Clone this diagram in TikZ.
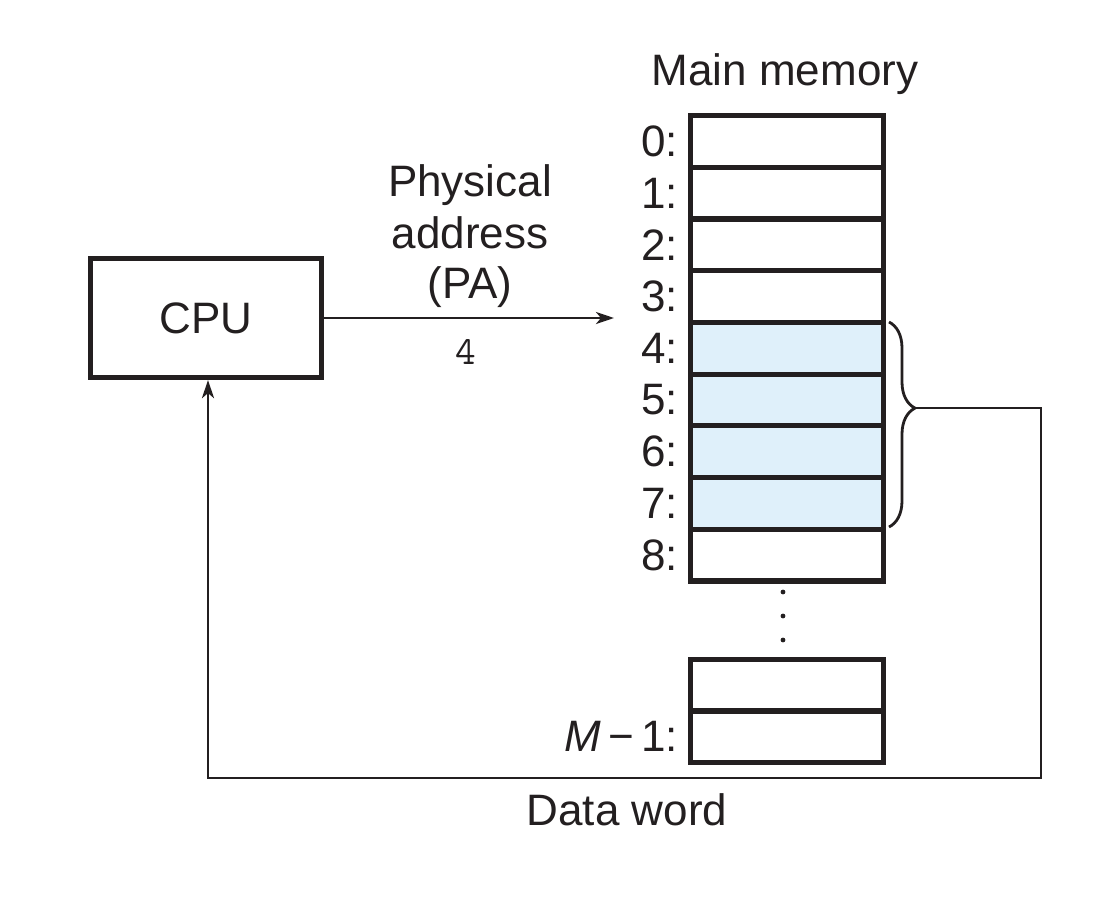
\documentclass[tikz,border=0pt]{standalone}
\usepackage{fontspec}
\setmainfont{Liberation Sans}
\usetikzlibrary{arrows.meta,decorations.pathreplacing,calc}
\definecolor{ink}{HTML}{231F20}
\definecolor{cellblue}{HTML}{DFF0FA}
\begin{document}
\begin{tikzpicture}[x=1pt,y=-1pt,
  txt/.style={font=\fontsize{44}{52}\selectfont, text=ink, inner sep=0pt},
  cell/.style={draw=ink, line width=5.2pt, minimum width=193pt, minimum height=51.7pt, inner sep=0pt, anchor=north west},
  thin/.style={draw=ink, line width=2.8pt},
  tip/.style={-{Stealth[length=18pt,width=12pt,inset=5pt]}}
]
\useasboundingbox (0,0) rectangle (1104,900);
% CPU
\node[draw=ink, line width=5.2pt, minimum width=231pt, minimum height=119pt, inner sep=0pt, txt] (cpu) at (206,318) {CPU};
% title
\node[txt] (title) at (785,74) {Main memory};
% cells
\foreach \i in {0,...,8} {
  \ifnum\i>3 \ifnum\i<8
    \node[cell, fill=cellblue] (c\i) at (688,{113+\i*51.7}) {};
  \else
    \node[cell] (c\i) at (688,{113+\i*51.7}) {};
  \fi\else
    \node[cell] (c\i) at (688,{113+\i*51.7}) {};
  \fi
  \node[txt, anchor=east] (l\i) at ($(c\i.west)+(-10,0)$) {\i:};
}
\node[cell] (cm2) at (688,657) {};
\node[cell] (cm1) at (688,708) {};
\node[txt, anchor=east] (lm1) at ($(cm1.west)+(-10,0)$) {\textit{M}\,−\,1:};
% dots
\foreach \y [count=\k] in {592,616,640} \fill[ink] (783,\y) circle (2.4pt) coordinate (d\k);
% address
\node[txt] (pa1) at (470,185) {Physical};
\node[txt] (pa2) at (470,233) {address};
\node[txt] (pa3) at (470,287) {(PA)};
\node[txt, font=\fontsize{40}{46}\ttfamily] (four) at (466,352) {4};
\coordinate (atip) at (614,318);
\draw[thin, tip] (cpu.east) -- (atip);
% brace
\draw[thin, decorate, decoration={brace, amplitude=26pt, aspect=0.42}] (889,322) -- (889,527) coordinate (bb);
\coordinate (btip) at (916,408);
\coordinate (r1) at (1041,408);
\coordinate (r2) at (1041,778);
\coordinate (r3) at (208,778);
\draw[thin, tip] (btip) -- (r1) -- (r2) -- (r3) -- (cpu.south -| r3);
\node[txt] (dw) at (627,810) {Data word};
\end{tikzpicture}
\end{document}
